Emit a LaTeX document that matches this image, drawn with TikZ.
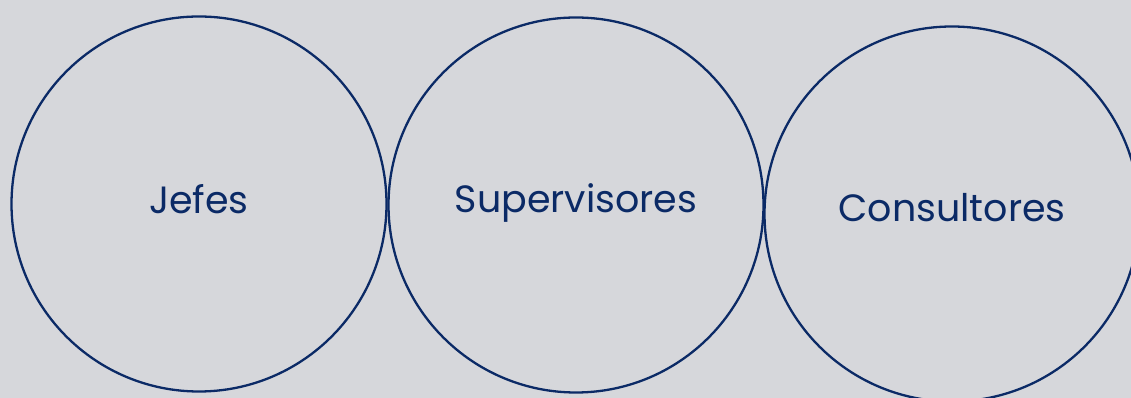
\documentclass[tikz,border=0pt]{standalone}
\usepackage{fontspec}
\setmainfont{Poppins}
\definecolor{navy}{HTML}{0B2A66}
\definecolor{bg}{HTML}{D6D7DB}
\begin{document}
\begin{tikzpicture}[x=1pt,y=1pt,
  ring/.style={circle,draw=navy,line width=2.3pt,minimum size=375pt,inner sep=0pt},
  lbl/.style={text=navy,font=\fontsize{38}{40}\selectfont,anchor=base}]
\fill[bg] (0,0) rectangle (1131,398);
\useasboundingbox (0,0) rectangle (1131,398);
\node[ring] (c1) at (199,194) {};
\node[ring] (c2) at (576,193) {};
\node[ring] (c3) at (952,184) {};
\node[lbl] (t1) at (199,184) {Jefes};
\node[lbl] (t2) at (576,185) {Supervisores};
\node[lbl] (t3) at (952,176) {Consultores};
\end{tikzpicture}
\end{document}
